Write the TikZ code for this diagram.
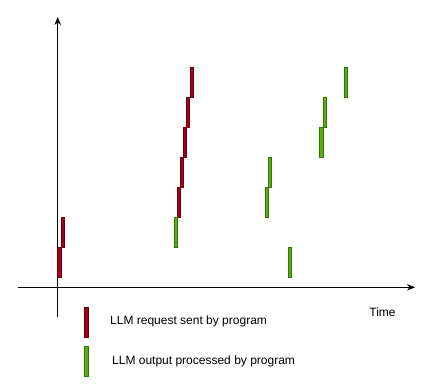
\documentclass[tikz,border=0pt]{standalone}
\usepackage{fontspec}
\setmainfont{Liberation Sans}
\usetikzlibrary{arrows.meta}
\definecolor{reqfill}{HTML}{A20025}
\definecolor{reqline}{HTML}{6F0000}
\definecolor{outfill}{HTML}{60A917}
\definecolor{outline}{HTML}{2D7600}
\tikzset{
	req/.style={fill=reqfill, draw=reqline, line width=0.5pt},
	outp/.style={fill=outfill, draw=outline, line width=0.5pt},
	axis/.style={line width=1pt, -{Stealth[length=8pt, width=6.5pt]}},
	lbl/.style={font=\fontsize{12}{14}\selectfont, inner sep=0pt}
}
\def\reqbar(#1,#2){\draw[req] (#1, #2) rectangle ++(3.4, 30);}
\def\outbar(#1,#2){\draw[outp] (#1, #2) rectangle ++(3.4, 30);}

\begin{document}
\begin{tikzpicture}[x=1pt, y=-1pt]
			%%%%% START %%%%%
			\useasboundingbox (0, 0) rectangle (436, 388);
			
			\draw[axis] (17.5, 287.3) -- (415, 287.3);
			\draw[axis] (57.7, 317.3) -- (57.7, 17);
			
			\node[lbl] (time) at (382.5, 312) {Time};
			
			% requests
			\reqbar(57.5, 247.7)
			\reqbar(61, 217.3)
			
			\reqbar(177.3, 187.3)
			\reqbar(180.3, 157.3)
			\reqbar(183.3, 127.3)
			\reqbar(186.3, 97.3)
			\reqbar(190.1, 67.3)
			
			% outputs
			\outbar(174.1, 217.3)
			
			\outbar(265.2, 187.3)
			\outbar(268.1, 157.3)
			\outbar(288.2, 247.3)
			
			\outbar(319.5, 127.3)
			\outbar(322.8, 97.3)
			\outbar(344, 67.3)
			
			% legend
			\draw[req] (84.2, 307.3) rectangle (88, 337.3);
			\node[lbl, anchor=west] (reqtext) at (110, 321.5) {LLM request sent by program};
			
			\draw[outp] (84.6, 346.7) rectangle (88.6, 376.7);
			\node[lbl, anchor=west] (outtext) at (112, 361.5) {LLM output processed by program};
			
			%%%%% END %%%%%
\end{tikzpicture}
\end{document}
